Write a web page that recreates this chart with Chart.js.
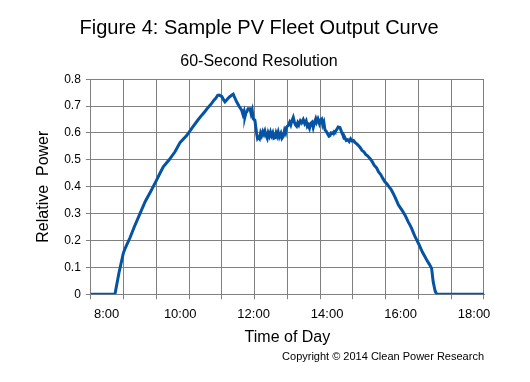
<!DOCTYPE html>
<html>
<head>
<meta charset="utf-8">
<script src="https://cdn.jsdelivr.net/npm/chart.js@4"></script>
<style>
html,body{margin:0;padding:0;background:#fff;}
#wrap{width:530px;height:382px;position:relative;}
</style>
</head>
<body>
<div id="wrap"><canvas id="c" width="530" height="382"></canvas></div>
<script>
// Time of day in decimal hours
const hours = [7.57,8.226,8.253,8.335,8.452,8.5,8.634,8.75,8.906,9.05,9.205,9.341,9.45,9.54,9.7,9.859,10.0,10.177,10.33,10.493,10.6,10.675,10.76,10.857,10.92,10.974,11.02,11.064,11.1,11.137,11.18,11.219,11.26,11.3,11.35,11.4,
11.445,11.49,11.537,11.6,11.673,11.71,11.74,11.763,11.79,11.818,11.85,11.899,11.93,11.96,11.989,12.035,12.06,12.082,12.105,12.125,12.16,12.19,12.218,12.25,12.28,12.308,12.34,12.37,12.397,12.43,12.46,12.49,12.52,12.55,12.58,12.61,12.64,12.669,12.70,12.74,12.77,12.805,12.84,12.87,12.898,12.941,12.98,13.01,13.04,13.078,13.11,13.14,13.17,13.2,13.23,13.27,13.306,13.35,13.39,13.43,13.46,13.486,13.52,13.55,13.59,13.622,13.66,13.69,13.714,13.75,13.79,13.82,13.85,13.88,13.91,13.94,13.98,14.02,14.05,14.076,14.11,14.15,14.19,14.212,14.26,14.3,14.348,14.39,14.43,14.46,14.484,14.52,14.56,14.6,14.64,14.68,14.72,14.757,14.8,14.84,14.893,14.95,15.0,15.05,15.1,15.165,15.22,15.28,15.347,15.4,15.46,15.52,15.573,15.63,15.68,15.74,15.799,15.85,15.9,15.935,15.99,16.05,16.117,16.17,16.21,16.253,16.3,16.35,16.4,16.435,16.5,16.55,16.6,16.661,16.72,16.78,16.844,16.887,16.94,16.98,18.27];
// Relative power
const power = [0,0,0.02,0.08,0.152,0.17,0.21,0.25,0.30,0.345,0.384,0.42,0.45,0.474,0.5,0.53,0.565,0.59,0.62,0.65,0.668,0.68,0.695,0.71,0.722,0.73,0.74,0.741,0.738,0.735,0.724,0.716,0.722,0.728,0.735,0.74,
0.744,0.73,0.716,0.70,0.685,0.668,0.68,0.66,0.675,0.68,0.69,0.69,0.672,0.685,0.653,0.647,0.62,0.597,0.58,0.584,0.578,0.60,0.59,0.605,0.595,0.607,0.59,0.58,0.60,0.588,0.603,0.59,0.60,0.58,0.582,0.60,0.588,0.603,0.585,0.598,0.58,0.587,0.61,0.60,0.622,0.628,0.64,0.63,0.645,0.658,0.64,0.63,0.625,0.638,0.63,0.645,0.638,0.65,0.635,0.645,0.625,0.63,0.618,0.635,0.64,0.62,0.64,0.652,0.64,0.652,0.635,0.648,0.652,0.63,0.64,0.612,0.605,0.595,0.588,0.59,0.6,0.598,0.605,0.603,0.612,0.622,0.62,0.605,0.592,0.58,0.582,0.572,0.575,0.568,0.578,0.57,0.572,0.565,0.56,0.555,0.547,0.535,0.53,0.52,0.515,0.505,0.495,0.48,0.47,0.455,0.445,0.43,0.418,0.41,0.40,0.39,0.375,0.36,0.345,0.334,0.322,0.31,0.295,0.28,0.268,0.258,0.245,0.228,0.212,0.203,0.185,0.17,0.155,0.14,0.125,0.112,0.096,0.046,0.012,0,0];
const xTickHours = [8,10,12,14,16,18];
const yTicks = [0,0.1,0.2,0.3,0.4,0.5,0.6,0.7,0.8];

const X_MIN = 7.57, X_MAX = 18.27;
const FONT = "'Liberation Sans', Arial, sans-serif";

const copyright = {
  id:'copyright',
  afterDraw(chart){
    const ctx = chart.ctx;
    ctx.save();
    ctx.font = "11px " + FONT;
    ctx.fillStyle = '#000';
    ctx.textAlign = 'right';
    ctx.textBaseline = 'middle';
    ctx.fillText('Copyright \u00A9 2014 Clean Power Research', 484, 357);
    ctx.restore();
  }
};

new Chart(document.getElementById('c'), {
  type:'line',
  data:{
    datasets:[{
      data: hours.map((h,i)=>({x:h,y:power[i]})),
      borderColor:'#0653a3',
      borderWidth:3,
      pointRadius:0,
      tension:0,
      fill:false
    }]
  },
  options:{
    responsive:false,
    animation:false,
    layout:{padding:{left:34,right:46,top:6,bottom:35}},
    plugins:{
      legend:{display:false},
      tooltip:{enabled:false},
      title:{display:true,text:'Figure 4: Sample PV Fleet Output Curve',color:'#000',
        font:{family:FONT,size:20,weight:'normal'},padding:{top:10,bottom:8}},
      subtitle:{display:true,text:'60-Second Resolution',color:'#000',
        font:{family:FONT,size:16,weight:'normal'},padding:{top:4,bottom:8}}
    },
    scales:{
      x:{
        type:'linear',min:X_MIN,max:X_MAX,
        ticks:{display:false,stepSize:(X_MAX-X_MIN)/12},
        afterBuildTicks(axis){
          const t=[];for(let i=0;i<=12;i++)t.push({value:X_MIN+i*(X_MAX-X_MIN)/12});
          axis.ticks=t;
        },
        grid:{color:'#808080',lineWidth:1,tickLength:5},
        border:{color:'#808080'}
      },
      x2:{
        type:'linear',position:'bottom',min:X_MIN,max:X_MAX,
        afterBuildTicks(axis){axis.ticks=xTickHours.map(v=>({value:v}));},
        ticks:{color:'#000',font:{family:FONT,size:13},padding:-1,maxRotation:0,autoSkip:false,
          callback:(v)=>v+':00'},
        grid:{display:false},
        border:{display:false},
        title:{display:true,text:'Time of Day',color:'#000',font:{family:FONT,size:16},padding:{top:7,bottom:0}}
      },
      y:{
        min:0,max:0.8,
        afterBuildTicks(axis){axis.ticks=yTicks.map(v=>({value:v}));},
        ticks:{color:'#000',font:{family:FONT,size:12},padding:5,callback:(v)=>String(Math.round(v*10)/10)},
        grid:{color:'#808080',lineWidth:1,tickLength:5},
        border:{color:'#808080'},
        title:{display:true,text:'Relative  Power',color:'#000',font:{family:FONT,size:16},padding:{top:0,bottom:6}}
      }
    }
  },
  plugins:[copyright]
});
</script>
</body>
</html>
